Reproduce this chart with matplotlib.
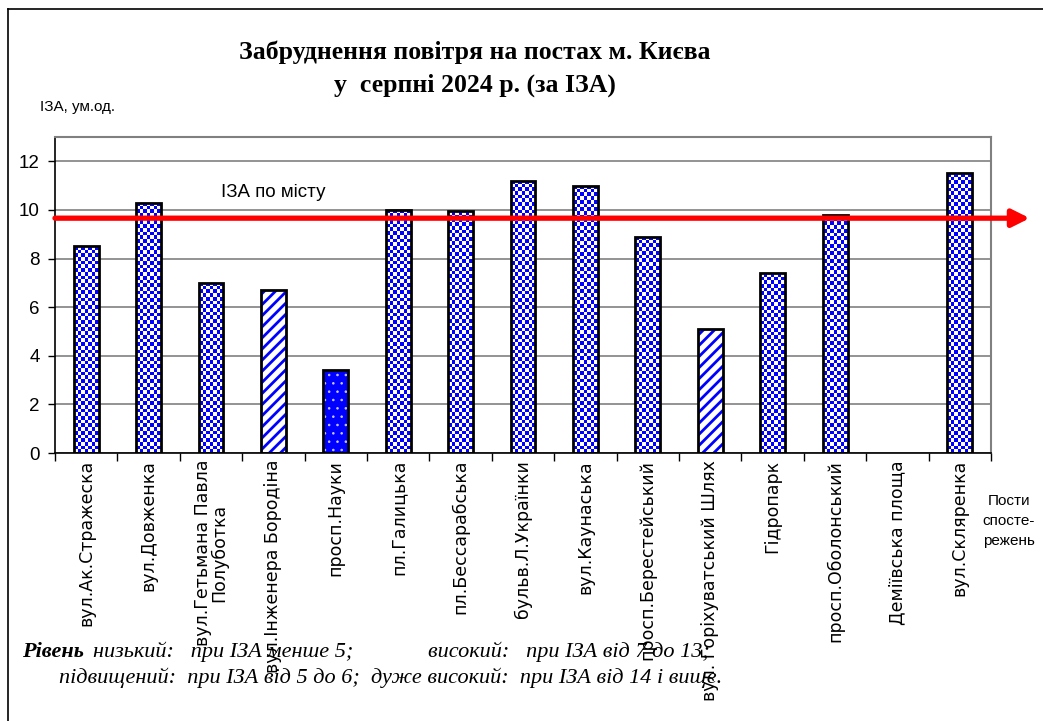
import numpy as np
import matplotlib
matplotlib.use('Agg')
import matplotlib.pyplot as plt
from matplotlib.colors import ListedColormap
from matplotlib.lines import Line2D

# posts and IZA values for August 2024 (Демiївська площа has no data)
posts = ['вул.Ак.Стражеска', 'вул.Довженка', 'вул.Гетьмана Павла\nПолуботка',
         'вул.Інженера Бородіна', 'просп.Науки', 'пл.Галицька', 'пл.Бессарабська',
         'бульв.Л.Українки', 'вул.Каунаська', 'просп.Берестейський',
         'вул. Горіхуватський Шлях', 'Гідропарк', 'просп.Оболонський',
         'Деміївська площа', 'вул.Скляренка']
iza = [8.5, 10.3, 7.0, 6.7, 3.4, 10.0, 9.95, 11.2, 11.0, 8.9, 5.1, 7.4, 9.8, np.nan, 11.5]
fills = ['check', 'check', 'check', 'stripe', 'dots', 'check', 'check', 'check',
         'check', 'check', 'stripe', 'check', 'check', 'check', 'check']
iza_city = 9.66
yticks = [0, 2, 4, 6, 8, 10, 12]

plt.rcParams['font.family'] = ['Liberation Sans', 'DejaVu Sans']
plt.rcParams['hatch.linewidth'] = 2.0

fig = plt.figure(figsize=(10.43, 7.21), dpi=100)
ax = fig.add_axes([0.0527, 0.3717, 0.8975, 0.4383])

x = np.arange(len(posts))
w = 0.4
ax.set_xlim(-0.5, len(posts) - 0.5)
ax.set_ylim(0, 13)

# pixels per data unit, used for checker cell size
px_x = 0.8975 * 1043 / len(posts)
px_y = 0.4383 * 721 / 13
cell = 3.7
checker = ListedColormap(['white', 'blue'])

for xi, v, f in zip(x, iza, fills):
    if np.isnan(v):
        continue
    if f == 'check':
        bar = ax.bar(xi, v, w, color='none', edgecolor='none', zorder=2)[0]
        nc = max(1, int(round(w * px_x / cell)))
        nr = max(1, int(round(v * px_y / cell)))
        img = np.indices((nr, nc)).sum(0) % 2
        im = ax.imshow(img, cmap=checker, extent=(xi - w / 2, xi + w / 2, 0, v),
                       aspect='auto', interpolation='nearest', zorder=2, origin='lower')
        im.set_clip_path(bar)
    elif f == 'stripe':
        ax.bar(xi, v, w, color='white', edgecolor='blue', hatch='///', lw=0, zorder=2)
    else:
        with plt.rc_context({'hatch.linewidth': 0.6}):
            ax.bar(xi, v, w, color='blue', edgecolor='#c8c8ff', hatch='..', lw=0, zorder=2)
    ax.bar(xi, v, w, color='none', edgecolor='black', lw=2, zorder=3)

ax.set_xlim(-0.5, len(posts) - 0.5)
ax.set_ylim(0, 13)

ax.set_yticks(yticks)
ax.set_yticklabels([str(t) for t in yticks], fontsize=13.5)
ax.yaxis.grid(True, color='#808080', lw=1.2)
ax.set_axisbelow(True)
ax.tick_params(axis='y', length=5, width=1, pad=6)

ax.set_xticks(x)
ax.set_xticklabels(posts, rotation=90, fontsize=12.5, va='top', ha='center',
                   linespacing=0.9, family='DejaVu Sans')
ax.set_xticks(np.arange(-0.5, len(posts), 1), minor=True)
ax.tick_params(axis='x', which='major', length=0, pad=5)
ax.tick_params(axis='x', which='minor', length=6, width=1)

for s in ['top', 'right']:
    ax.spines[s].set_color('#808080')
    ax.spines[s].set_linewidth(1.5)
for s in ['left', 'bottom']:
    ax.spines[s].set_linewidth(1.2)

# city average line with arrow
ax.annotate('', xy=(15.12, iza_city), xytext=(-0.5, iza_city),
            arrowprops=dict(arrowstyle='-|>', color='red', lw=3.8, mutation_scale=26,
                            shrinkA=0, shrinkB=0),
            annotation_clip=False, zorder=4)
ax.text(3.0, 10.7, 'ІЗА по місту', fontsize=13.5, ha='center', va='center')

fig.text(0.455, 0.928, 'Забруднення повітря на постах м. Києва', fontsize=18.5,
         fontweight='bold', family='Liberation Serif', ha='center', va='center')
fig.text(0.455, 0.882, 'у  серпні 2024 р. (за ІЗА)', fontsize=18.5,
         fontweight='bold', family='Liberation Serif', ha='center', va='center')
fig.text(0.038, 0.851, 'ІЗА, ум.од.', fontsize=11, ha='left', va='center')
fig.text(0.967, 0.277, 'Пости\nспосте-\nрежень', fontsize=11, ha='center',
         va='center', linespacing=1.55)

fig.text(0.021, 0.096, 'Рівень', fontsize=16, fontweight='bold', style='italic',
         family='Liberation Serif', ha='left', va='center')
fig.text(0.089, 0.096, 'низький:   при ІЗА менше 5;',
         fontsize=16, style='italic', family='Liberation Serif', ha='left', va='center')
fig.text(0.410, 0.096, 'високий:   при ІЗА від 7 до 13;',
         fontsize=16, style='italic', family='Liberation Serif', ha='left', va='center')
fig.text(0.057, 0.060, 'підвищений:  при ІЗА від 5 до 6;  дуже високий:  при ІЗА від 14 і вище.',
         fontsize=16, style='italic', family='Liberation Serif', ha='left', va='center')

# outer frame (left and top edges visible)
fig.add_artist(Line2D([0.0077, 0.0077], [0.0, 0.988], color='black', lw=1.2))
fig.add_artist(Line2D([0.0077, 1.0], [0.988, 0.988], color='black', lw=1.2))

fig.savefig('out.png', dpi=100)
